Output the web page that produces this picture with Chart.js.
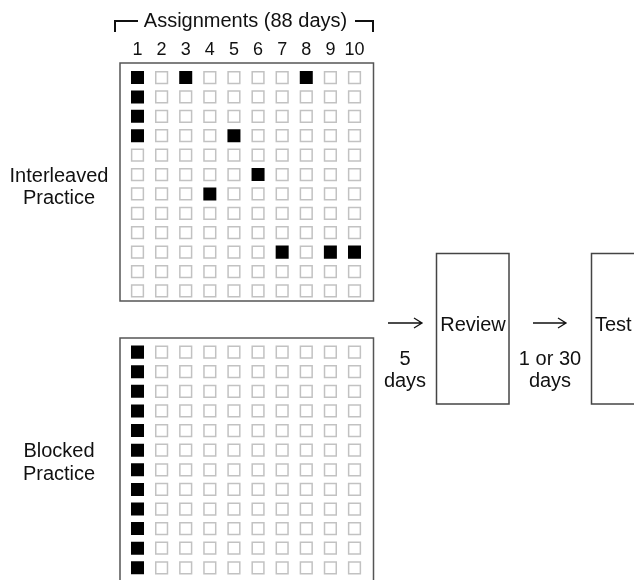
<!DOCTYPE html>
<html>
<head>
<meta charset="utf-8">
<title>Interleaved vs Blocked Practice</title>
<script src="https://cdn.jsdelivr.net/npm/chart.js@4/dist/chart.umd.min.js"></script>
<style>
    body { margin: 0; background: #fff; }
    #wrap { position: relative; width: 634px; height: 580px; overflow: hidden; }
    #topGrid { position: absolute; left: 0; top: 0; }
    #bottomGrid { position: absolute; left: 0; top: 318px; }
</style>
</head>
<body>
<div id="wrap">
    <canvas id="topGrid" width="634" height="580"></canvas>
    <canvas id="bottomGrid" width="384" height="272"></canvas>
</div>
<script>
// Assignments (columns) and problems within each assignment (rows)
const columns = [1, 2, 3, 4, 5, 6, 7, 8, 9, 10];
const columnLabels = ['1', '2', '3', '4', '5', '6', '7', '8', '9', '10'];
const rows = [1, 2, 3, 4, 5, 6, 7, 8, 9, 10, 11, 12];

// For each row, the assignments where that problem kind was practised (black squares)
const interleavedDone = [[1, 3, 8], [1], [1], [1, 5], [], [6], [4], [], [], [7, 9, 10], [], []];
const blockedDone = [[1], [1], [1], [1], [1], [1], [1], [1], [1], [1], [1], [1]];

const FONT = '"Liberation Sans", Arial, sans-serif';
const INK = '#111';

function cells(done, filled) {
    const pts = [];
    rows.forEach((r, i) => {
        columns.forEach(c => {
            if (done[i].includes(c) === filled) pts.push({ x: c, y: r });
        });
    });
    return pts;
}

// Panel frame round the chart area (bottom panel runs off the page, so no bottom edge)
const framePlugin = {
    id: 'frame',
    beforeDatasetsDraw(chart, args, opts) {
        const a = chart.chartArea;
        const ctx = chart.ctx;
        ctx.save();
        ctx.strokeStyle = '#555';
        ctx.lineWidth = 1.5;
        ctx.beginPath();
        if (opts.openBottom) {
            ctx.moveTo(a.left, a.bottom + 5);
            ctx.lineTo(a.left, a.top);
            ctx.lineTo(a.right, a.top);
            ctx.lineTo(a.right, a.bottom + 5);
        } else {
            ctx.rect(a.left, a.top, a.right - a.left, a.bottom - a.top);
        }
        ctx.stroke();
        ctx.restore();
    }
};

// Titles, column numbers, side labels and the review/test flow
const decorPlugin = {
    id: 'decor',
    afterDraw(chart) {
        const ctx = chart.ctx;
        const x = chart.scales.x;
        ctx.save();
        ctx.fillStyle = INK;
        ctx.strokeStyle = INK;
        ctx.textBaseline = 'alphabetic';

        // column numbers
        ctx.font = '18px ' + FONT;
        ctx.textAlign = 'center';
        columns.forEach((c, i) => {
            ctx.fillText(columnLabels[i], x.getPixelForValue(c), 55);
        });

        // header with bracket
        ctx.font = '20px ' + FONT;
        ctx.fillText('Assignments (88 days)', 245.5, 27);
        ctx.lineWidth = 2;
        ctx.beginPath();
        ctx.moveTo(115, 32); ctx.lineTo(115, 21); ctx.lineTo(138, 21);
        ctx.moveTo(355, 21); ctx.lineTo(373, 21); ctx.lineTo(373, 32);
        ctx.stroke();

        // side labels
        ctx.fillText('Interleaved', 59, 182);
        ctx.fillText('Practice', 59, 204);
        ctx.fillText('Blocked', 59, 457);
        ctx.fillText('Practice', 59, 480);

        // arrows
        ctx.lineWidth = 1.3;
        [[388, 422], [533, 566]].forEach(([x0, x1]) => {
            ctx.beginPath();
            ctx.moveTo(x0, 323); ctx.lineTo(x1, 323);
            ctx.moveTo(x1 - 8, 318); ctx.lineTo(x1, 323); ctx.lineTo(x1 - 8, 328);
            ctx.stroke();
        });
        ctx.fillText('5', 405, 365);
        ctx.fillText('days', 405, 387);
        ctx.fillText('1 or 30', 550, 365);
        ctx.fillText('days', 550, 387);

        // boxes
        ctx.strokeStyle = '#444';
        ctx.lineWidth = 1.5;
        ctx.strokeRect(436.5, 253.5, 72.5, 150.5);
        ctx.strokeRect(591.5, 253.5, 60, 150.5);
        ctx.fillText('Review', 473, 331);
        ctx.textAlign = 'left';
        ctx.fillText('Test', 595, 331);
        ctx.restore();
    }
};

function makeGrid(canvas, done, yMin, yMax, padding, openBottom, plugins) {
    return new Chart(canvas, {
        type: 'scatter',
        data: {
            datasets: [
                {
                    label: 'practised',
                    data: cells(done, true),
                    pointStyle: 'rect',
                    pointRadius: 9.2,
                    backgroundColor: '#000',
                    borderColor: '#000',
                    borderWidth: 0
                },
                {
                    label: 'other',
                    data: cells(done, false),
                    pointStyle: 'rect',
                    pointRadius: 8.3,
                    backgroundColor: '#fff',
                    borderColor: '#c2c2c2',
                    borderWidth: 1.5
                }
            ]
        },
        options: {
            responsive: false,
            maintainAspectRatio: false,
            animation: false,
            events: [],
            layout: { padding: padding },
            scales: {
                x: { type: 'linear', min: 0.274, max: 10.788, display: false },
                y: { type: 'linear', min: yMin, max: yMax, reverse: true, display: false }
            },
            plugins: {
                legend: { display: false },
                tooltip: { enabled: false },
                frame: { openBottom: openBottom }
            }
        },
        plugins: plugins
    });
}

makeGrid(document.getElementById('topGrid'), interleavedDone, 0.25, 12.52,
    { left: 120, top: 63, right: 260.5, bottom: 279 }, false, [framePlugin, decorPlugin]);

// padding kept above the points' overflow so Chart.js does not enlarge it
makeGrid(document.getElementById('bottomGrid'), blockedDone, 0.28, 12.62,
    { left: 120, top: 20, right: 10.5, bottom: 10 }, true, [framePlugin]);
</script>
</body>
</html>
